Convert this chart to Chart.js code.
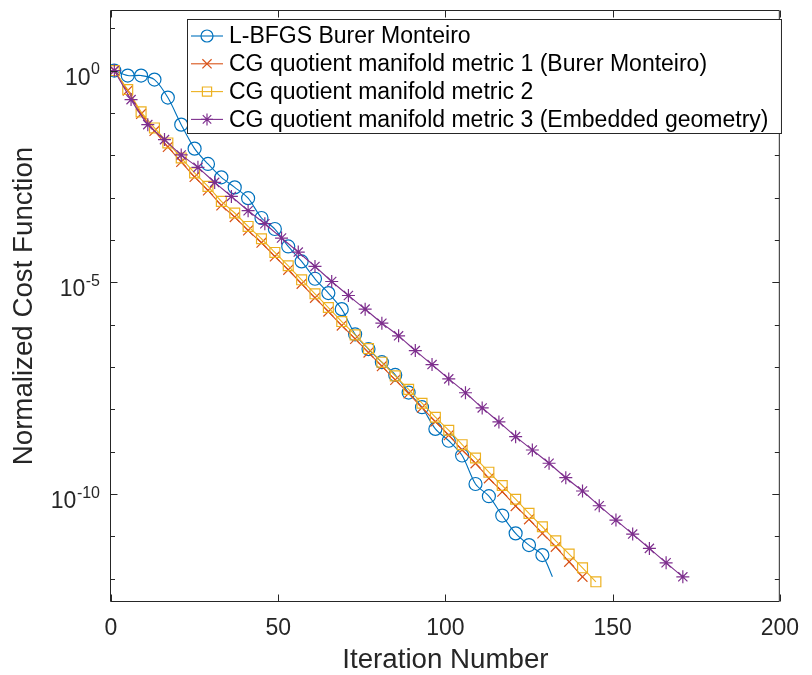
<!DOCTYPE html>
<html><head><meta charset="utf-8">
<script src="https://cdn.jsdelivr.net/npm/chart.js@4/dist/chart.umd.min.js"></script>
<style>html,body{margin:0;padding:0;background:#fff;overflow:hidden}canvas{display:block}</style>
</head><body>
<canvas id="c" width="812" height="675"></canvas>
<script>
const FONT = '"Liberation Sans", Arial, Helvetica, sans-serif';

// ---- data (log10 of normalized cost) ----
const seriesLabels = [
  'L-BFGS Burer Monteiro',
  'CG quotient manifold metric 1 (Burer Monteiro)',
  'CG quotient manifold metric 2',
  'CG quotient manifold metric 3 (Embedded geometry)'
];
const lbfgsIter = [1,5,9,13,17,21,25,29,33,37,41,45,49,53,57,61,65,69,73,77,81,85,89,93,97,101,105,109,113,117,121,125,129,132];
const lbfgsLog10 = [0,-0.118,-0.118,-0.213,-0.638,-1.277,-1.844,-2.206,-2.522,-2.759,-3.014,-3.482,-3.742,-4.154,-4.508,-4.917,-5.255,-5.634,-6.229,-6.577,-6.887,-7.187,-7.605,-7.950,-8.463,-8.742,-9.090,-9.764,-10.052,-10.508,-10.929,-11.206,-11.442,-11.955];
const cg1Iter = [1,5,9,13,17,21,25,29,33,37,41,45,49,53,57,61,65,69,73,77,81,85,89,93,97,101,105,109,113,117,121,125,129,133,137,141];
const cg1Log10 = [0,-0.473,-1.024,-1.426,-1.804,-2.158,-2.513,-2.830,-3.184,-3.459,-3.775,-4.066,-4.390,-4.704,-5.035,-5.366,-5.690,-6.021,-6.336,-6.660,-6.981,-7.305,-7.624,-7.962,-8.293,-8.612,-8.960,-9.274,-9.629,-9.946,-10.284,-10.598,-10.929,-11.246,-11.600,-11.955];
const cg2Iter = [1,5,9,13,17,21,25,29,33,37,41,45,49,53,57,61,65,69,73,77,81,85,89,93,97,101,105,109,113,117,121,125,129,133,137,141,145];
const cg2Log10 = [0,-0.449,-0.976,-1.355,-1.709,-2.064,-2.418,-2.735,-3.090,-3.364,-3.681,-3.972,-4.296,-4.610,-4.941,-5.272,-5.596,-5.927,-6.241,-6.565,-6.887,-7.210,-7.530,-7.856,-8.187,-8.494,-8.835,-9.149,-9.485,-9.799,-10.123,-10.456,-10.773,-11.104,-11.418,-11.742,-12.073];
const cg3Iter = [1,6,11,16,21,26,31,36,41,46,51,56,61,66,71,76,81,86,91,96,101,106,111,116,121,126,131,136,141,146,151,156,161,166,171];
const cg3Log10 = [0,-0.686,-1.277,-1.631,-1.993,-2.286,-2.641,-2.972,-3.310,-3.617,-3.955,-4.286,-4.626,-4.981,-5.312,-5.634,-5.965,-6.265,-6.612,-6.943,-7.281,-7.608,-7.967,-8.298,-8.645,-8.960,-9.274,-9.615,-9.929,-10.277,-10.615,-10.946,-11.284,-11.624,-11.955];

// ---- axes / ticks ----
const xTickValues = [0,50,100,150,200];
const yTickExponents = [1,0,-1,-2,-3,-4,-5,-6,-7,-8,-9,-10,-11,-12];
const yLabelExponents = [0,-5,-10];
const yMinExp = -12.55, yMaxExp = 1.43;

const colors = ['#0072BD','#D95319','#EDB120','#7E2F8E'];
const styles = [
  {pointStyle:'circle', radius:6.5},
  {pointStyle:'crossRot', radius:7},
  {pointStyle:'rect', radius:7},
  {pointStyle:'star', radius:6.5}
];

function pts(xs, es){ return xs.map((x,i)=>({x:x, y:Math.pow(10, es[i])})); }

const iters = [lbfgsIter, cg1Iter, cg2Iter, cg3Iter];
const logs = [lbfgsLog10, cg1Log10, cg2Log10, cg3Log10];
const tensions = [0.3, 0.1, 0.1, 0.15];
const orders = [3,2,1,0];

const datasets = seriesLabels.map((lab,k)=>({
  label: lab,
  data: pts(iters[k], logs[k]),
  borderColor: colors[k],
  borderWidth: 1.1,
  pointStyle: styles[k].pointStyle,
  pointRadius: iters[k].map((x,i)=> (k===0 && i===iters[k].length-1) ? 0 : styles[k].radius),
  pointBorderColor: colors[k],
  pointBackgroundColor: 'rgba(0,0,0,0)',
  pointBorderWidth: 1.2,
  tension: tensions[k],
  fill: false,
  order: orders[k]
}));

function drawMarker(ctx, style, r, x, y){
  ctx.beginPath();
  if (style==='circle'){ ctx.arc(x,y,r,0,Math.PI*2); }
  else if (style==='rect'){ const s=Math.SQRT1_2*r; ctx.rect(x-s,y-s,2*s,2*s); }
  else if (style==='crossRot'){ const d=Math.SQRT1_2*r; ctx.moveTo(x-d,y-d);ctx.lineTo(x+d,y+d);ctx.moveTo(x-d,y+d);ctx.lineTo(x+d,y-d); }
  else if (style==='star'){ const d=Math.SQRT1_2*r; ctx.moveTo(x-r,y);ctx.lineTo(x+r,y);ctx.moveTo(x,y-r);ctx.lineTo(x,y+r);
    ctx.moveTo(x-d,y-d);ctx.lineTo(x+d,y+d);ctx.moveTo(x-d,y+d);ctx.lineTo(x+d,y-d); }
  ctx.stroke();
}

const axesDecor = {
  id:'axesDecor',
  afterDatasetsDraw(chart){
    const {ctx, chartArea:a, scales:{x,y}} = chart;
    ctx.save();
    ctx.strokeStyle='#262626'; ctx.lineWidth=1;
    const L=a.left-0.5, R=a.right-0.5, T=a.top+0.5, B=a.bottom-0.5;
    ctx.beginPath();
    ctx.moveTo(L,T);ctx.lineTo(R,T);ctx.lineTo(R,B);ctx.lineTo(L,B);ctx.closePath();
    xTickValues.forEach(v=>{
      const px=Math.round(x.getPixelForValue(v))+0.5;
      ctx.moveTo(px,B);ctx.lineTo(px,B-7);
      ctx.moveTo(px,T);ctx.lineTo(px,T+7);
    });
    yTickExponents.forEach(e=>{
      const py=Math.round(y.getPixelForValue(Math.pow(10,e)))+0.5;
      const len = yLabelExponents.includes(e) ? 7 : 4.5;
      ctx.moveTo(L,py);ctx.lineTo(L+len,py);
      ctx.moveTo(R,py);ctx.lineTo(R-len,py);
    });
    ctx.stroke();
    // y tick labels 10^e
    ctx.fillStyle='#262626';
    ctx.textAlign='right'; ctx.textBaseline='alphabetic';
    yLabelExponents.forEach(e=>{
      const py=y.getPixelForValue(Math.pow(10,e));
      const rx=100;
      ctx.font='16px '+FONT;
      const sup=String(e);
      const sw=ctx.measureText(sup).width;
      ctx.fillText(sup, rx, py+3.5);
      ctx.font='23px '+FONT;
      ctx.fillText('10', rx-sw-0.5, py+14);
    });
    ctx.restore();
  },
  afterDraw(chart){
    const ctx=chart.ctx;
    ctx.save();
    ctx.font='23px '+FONT;
    const textX=229;
    let maxW=0;
    seriesLabels.forEach(s=>{maxW=Math.max(maxW, ctx.measureText(s).width);});
    const bx=187.5, by=19.5, bw=textX+maxW+13-bx, bh=114;
    ctx.fillStyle='#fff';
    ctx.fillRect(bx,by,bw,bh);
    ctx.strokeStyle='#262626'; ctx.lineWidth=1;
    ctx.strokeRect(bx,by,bw,bh);
    seriesLabels.forEach((s,k)=>{
      const cy=36+k*27.8;
      ctx.strokeStyle=colors[k]; ctx.lineWidth=1.1;
      ctx.beginPath(); ctx.moveTo(191,cy); ctx.lineTo(223,cy); ctx.stroke();
      ctx.lineWidth=1.2;
      drawMarker(ctx, styles[k].pointStyle, styles[k].radius-0.5, 207, cy);
      ctx.fillStyle='#000'; ctx.textAlign='left'; ctx.textBaseline='middle';
      ctx.fillText(s, textX, cy+1);
    });
    ctx.restore();
  }
};

new Chart(document.getElementById('c'), {
  type:'line',
  data:{datasets},
  options:{
    responsive:false, animation:false, devicePixelRatio:1,
    layout:{padding:{top:10,right:24,left:0,bottom:0}},
    plugins:{legend:{display:false}, tooltip:{enabled:false}},
    scales:{
      x:{
        type:'linear', min:0, max:200,
        grid:{display:false, drawTicks:false, tickLength:0},
        border:{display:false},
        ticks:{stepSize:50, color:'#262626', font:{family:FONT, size:23}, padding:13, maxRotation:0},
        title:{display:true, text:'Iteration Number', color:'#262626', font:{family:FONT, size:27.7, lineHeight:1.05}, padding:{top:0,bottom:0}},
        afterFit(s){ s.height=73; }
      },
      y:{
        type:'logarithmic', min:Math.pow(10,yMinExp), max:Math.pow(10,yMaxExp),
        grid:{display:false, drawTicks:false, tickLength:0},
        border:{display:false},
        ticks:{display:false},
        title:{display:true, text:'Normalized Cost Function', color:'#262626', font:{family:FONT, size:27.7, lineHeight:1.05}, padding:{top:10,bottom:0}},
        afterFit(s){ s.width=111; }
      }
    }
  },
  plugins:[axesDecor]
});
</script>
</body></html>
